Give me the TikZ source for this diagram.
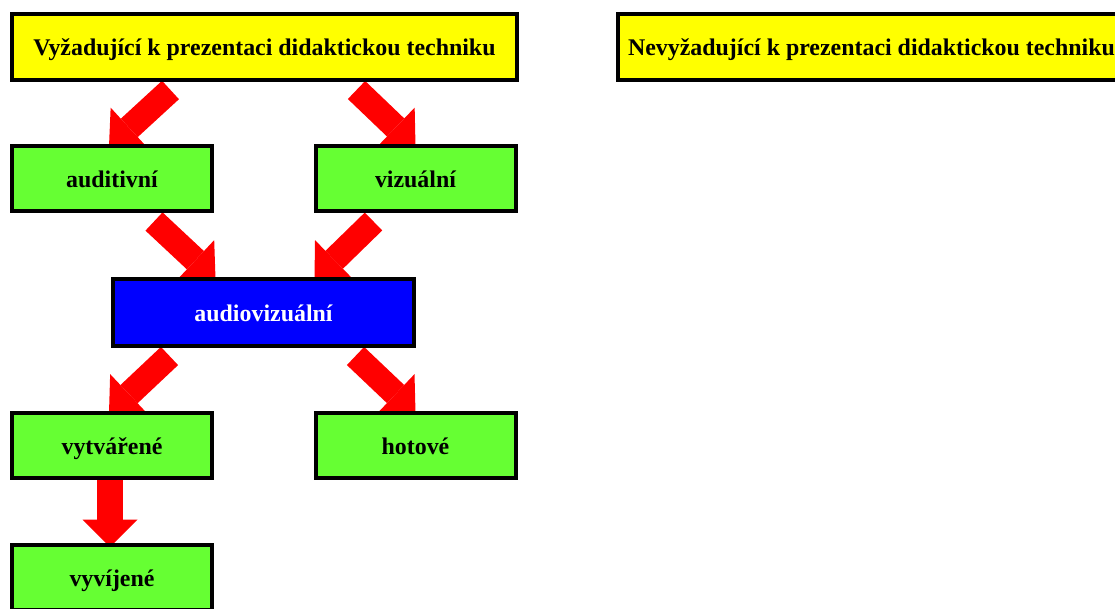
\documentclass[tikz,border=0pt]{standalone}
\usepackage{fontspec}
\setmainfont{Liberation Serif}
\usetikzlibrary{calc}
\usetikzlibrary{arrows.meta, positioning, backgrounds}
\definecolor{boxyellow}{HTML}{FFFF00}
\definecolor{boxgreen}{HTML}{66FF33}
\definecolor{boxblue}{HTML}{0000FF}
\definecolor{arrowred}{HTML}{FF0000}

\begin{document}
\begin{tikzpicture}[
    x=1pt, y=-1pt,
    % Styly boxů
    base_box/.style={rectangle, draw=black, line width=4pt, inner sep=0pt,
        text height=18pt, text depth=0pt, font=\fontsize{23.9}{28}\selectfont\bfseries},
    title_box/.style={base_box, fill=boxyellow, minimum width=505pt, minimum height=66pt},
    leaf_box/.style={base_box, fill=boxgreen, minimum width=200pt, minimum height=65pt},
    mid_box/.style={base_box, fill=boxblue, text=white, minimum width=301pt, minimum height=67pt},
    % Tlusté červené šipky
    big_arrow/.style={draw=arrowred, line width=25pt, -{Triangle[length=27.5pt, width=55pt, line width=0pt, fill=arrowred]}}
]
    \useasboundingbox (0,0) rectangle (1115,609);
    \clip (0,0) rectangle (1115,609);

    % --- 1. NADPISY ---
    \node[title_box] (vyz) at (264.5,47) {Vyžadující k prezentaci didaktickou techniku};
    \node[title_box, anchor=west, text width=490pt, inner xsep=10pt, align=flush left] (nevyz) at (616,47) {Nevyžadující k prezentaci didaktickou techniku};

    % --- 2. AUDITIVNÍ A VIZUÁLNÍ ---
    \node[leaf_box] (audit) at (112,179)   {auditivní};
    \node[leaf_box] (vizu)  at (415.5,179) {vizuální};

    % --- 3. AUDIOVIZUÁLNÍ ---
    \node[mid_box] (audiovizu) at (263.5,312.5) {audiovizuální};

    % --- 4. VYTVÁŘENÉ, HOTOVÉ, VYVÍJENÉ ---
    \node[leaf_box] (vytv)   at (112,445.5)   {vytvářené};
    \node[leaf_box] (hotove) at (415.5,445.5) {hotové};
    \node[leaf_box] (vyvij)  at (112,577.5)   {vyvíjené};

    % --- 5. ŠIPKY (pod boxy) ---
    \begin{pgfonlayer}{background}
        \draw[big_arrow] ($(vyz.south)+(-94,8)$) -- ($(audit.north)+(-3,2)$);
        \draw[big_arrow] ($(vyz.south)+(92,8)$) -- ($(vizu.north)+(0,2)$);
        \draw[big_arrow] ($(audit.south)+(42,8)$) -- ($(audiovizu.north)+(-48,2)$);
        \draw[big_arrow] ($(vizu.south)+(-42,8)$) -- ($(audiovizu.north)+(51,2)$);
        \draw[big_arrow] ($(audiovizu.south)+(-94,8)$) -- ($(vytv.north)+(-3,2)$);
        \draw[big_arrow] ($(audiovizu.south)+(92,8)$) -- ($(hotove.north)+(0,2)$);
        \draw[big_arrow, line width=26pt] ($(vytv.south)+(-2,0)$) -- ($(vyvij.north)+(-2,4)$);
    \end{pgfonlayer}

\end{tikzpicture}
\end{document}
